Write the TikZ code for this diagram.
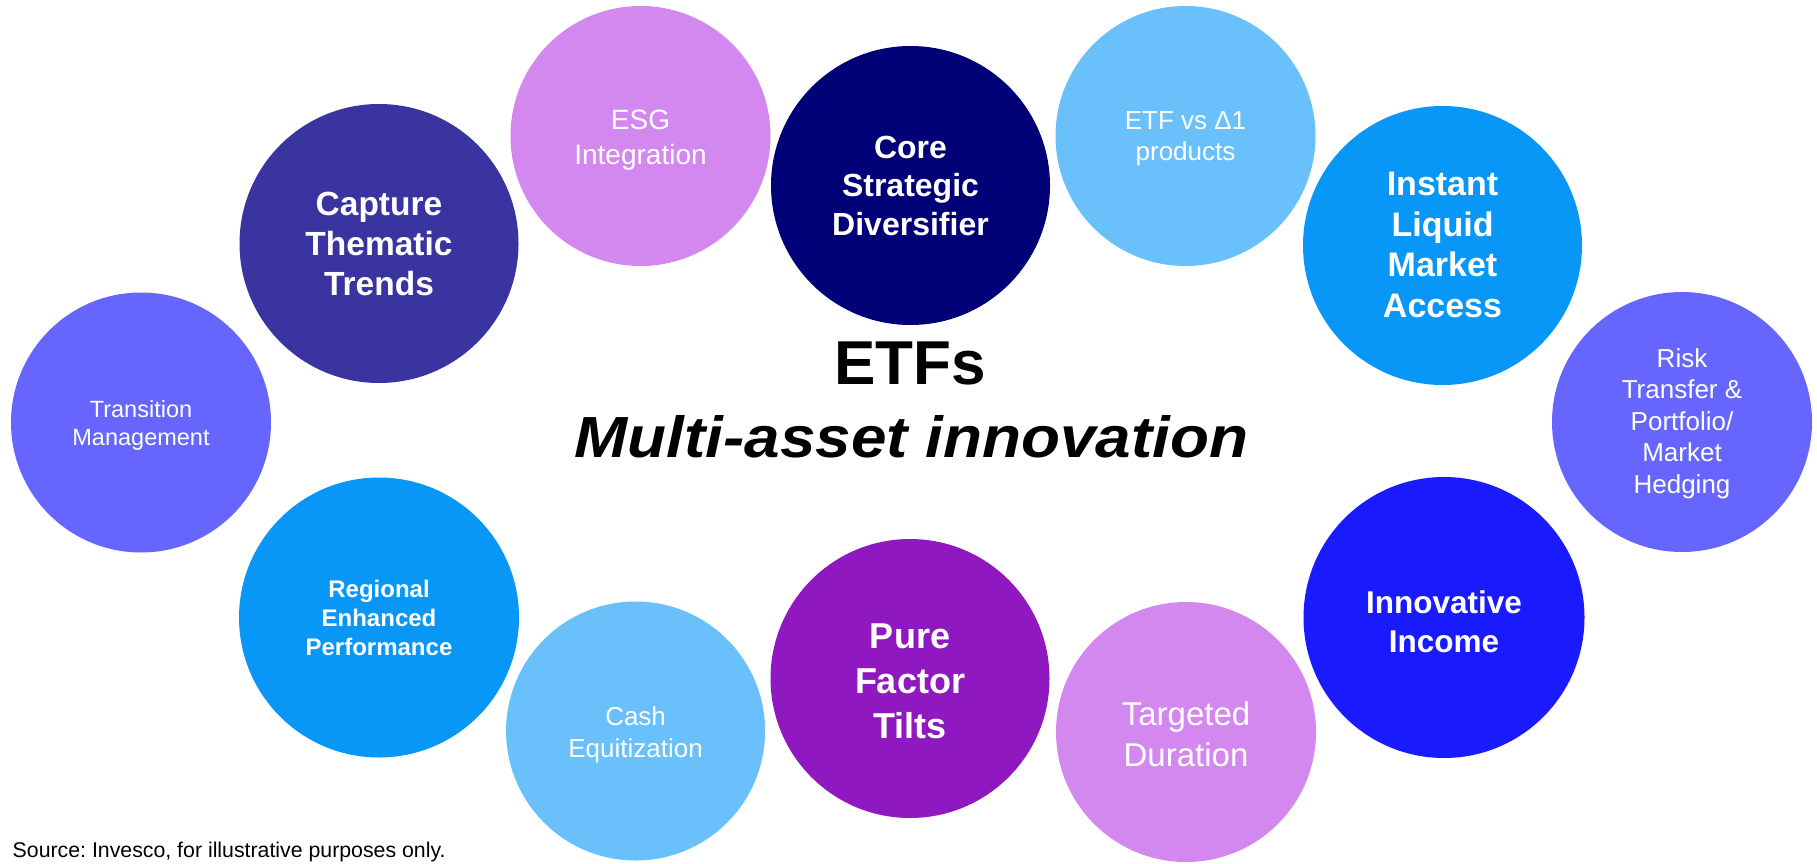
\documentclass[tikz,border=0pt]{standalone}
\usepackage{fontspec}
\setmainfont{Liberation Sans}
\usetikzlibrary{calc}
\frenchspacing

\definecolor{lilac}{HTML}{D388F0}
\definecolor{navy}{HTML}{000077}
\definecolor{skyblue}{HTML}{69C0FA}
\definecolor{indigo}{HTML}{3A34A0}
\definecolor{azure}{HTML}{0997F7}
\definecolor{periwinkle}{HTML}{6666FF}
\definecolor{violet}{HTML}{8F18C0}
\definecolor{brightblue}{HTML}{1A1AFF}

% centred lines of text; the box baseline is the baseline of the last line
\newcommand\lines[3]{{\fontsize{#1}{#2}\selectfont
  \vbox{\let\\\cr\halign{\hfil##\hfil\cr#3\crcr}}}}

\tikzset{
  bubble/.style 2 args={circle, inner sep=0pt, draw=none, fill=#1, minimum size=#2},
  txt/.style={anchor=base, inner sep=0pt, text=white},
  boldtxt/.style={txt, font=\bfseries},
}

\begin{document}
\begin{tikzpicture}[x=1pt, y=-1pt]
\useasboundingbox (0,0) rectangle (1817,864);

% bubbles
\node[bubble={lilac}{260pt}]      (esg)      at (640.5,136)   {};
\node[bubble={navy}{279pt}]       (core)     at (910.5,185.5) {};
\node[bubble={skyblue}{260pt}]    (delta)    at (1185.5,136)  {};
\node[bubble={indigo}{279pt}]     (capture)  at (379,243.5)   {};
\node[bubble={azure}{279pt}]      (instant)  at (1442.5,245.5){};
\node[bubble={periwinkle}{260pt}] (trans)    at (141,422.5)   {};
\node[bubble={periwinkle}{260pt}] (risk)     at (1682,422)    {};
\node[bubble={azure}{280pt}]      (regional) at (379,617.5)   {};
\node[bubble={skyblue}{259pt}]    (cash)     at (635.6,731)   {};
\node[bubble={violet}{279pt}]     (pure)     at (910,678.5)   {};
\node[bubble={lilac}{260pt}]      (targeted) at (1186,732)    {};
\node[bubble={brightblue}{281pt}] (income)   at (1444,617.5)  {};

% bubble labels, placed by the baseline of their last line
\node[boldtxt] (core-t)     at ($(core)+(0,49.5)$)     {\lines{32}{38.5}{Core\\Strategic\\Diversifier}};
\node[boldtxt] (capture-t)  at ($(capture)+(0,51.5)$)  {\lines{33.5}{40}{Capture\\Thematic\\Trends}};
\node[boldtxt] (instant-t)  at ($(instant)+(0,72)$)    {\lines{34}{40.7}{Instant\\Liquid\\Market\\Access}};
\node[boldtxt] (regional-t) at ($(regional)+(0,38)$)   {\lines{24}{28.8}{Regional\\Enhanced\\Performance}};
\node[boldtxt] (pure-t)     at ($(pure)+(0,59.5)$)     {\lines{36}{45}{Pure\\Factor\\Tilts}};
\node[boldtxt] (income-t)   at ($(income)+(0,34.5)$)   {\lines{31.5}{39}{Innovative\\Income}};
\node[txt]     (esg-t)      at ($(esg)+(0,28.3)$)      {\lines{28}{35}{ESG\\Integration}};
\node[txt]     (delta-t)    at ($(delta)+(0,24.7)$)    {\lines{26}{31}{ETF vs Δ1\\products}};
\node[txt]     (risk-t)     at ($(risk)+(0,71.3)$)     {\lines{26}{31.5}{Risk\\Transfer \&\\Portfolio/\\Market\\Hedging}};
\node[txt]     (trans-t)    at ($(trans)+(0,22.5)$)    {\lines{23.5}{27.3}{Transition\\Management}};
\node[txt]     (cash-t)     at ($(cash)+(0,26.7)$)     {\lines{26}{32}{Cash\\Equitization}};
\node[txt]     (targeted-t) at ($(targeted)+(0,34)$)   {\lines{33}{41}{Targeted\\Duration}};

% central title
\node[anchor=base, inner sep=0pt, font=\fontsize{62}{74}\selectfont\bfseries] (title) at (910,384) {ETFs};
\node[anchor=base, inner sep=0pt] (subtitle) at (911.5,457)
  {\scalebox{1.1}[1]{\fontsize{58}{70}\selectfont\bfseries\itshape Multi-asset innovation}};

% source note
\node[anchor=base west, inner sep=0pt, font=\fontsize{21.3}{25}\selectfont] (source) at (12.5,857.5)
  {Source: Invesco, for illustrative purposes only.};
\end{tikzpicture}
\end{document}
